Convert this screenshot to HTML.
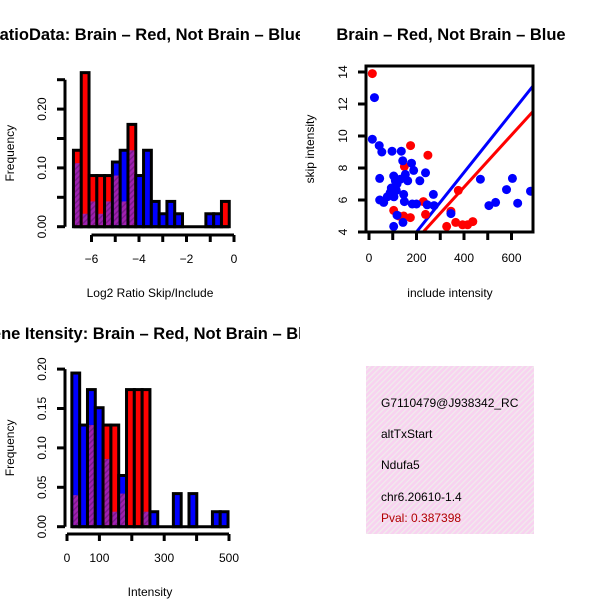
<!DOCTYPE html>
<html><head><meta charset="utf-8"><style>
html,body{margin:0;padding:0;background:#fff}
svg{display:block;font-family:"Liberation Sans",sans-serif}
</style></head><body>
<svg id="chart" width="600" height="600" xmlns="http://www.w3.org/2000/svg">
<defs>
<pattern id="hatch" width="4" height="4" patternUnits="userSpaceOnUse" patternTransform="rotate(45)">
<rect width="4" height="4" fill="#a020b0"/><rect width="1.5" height="4" fill="#7a1a8a"/></pattern>
<pattern id="pink" width="4" height="4" patternUnits="userSpaceOnUse" patternTransform="rotate(45)">
<rect width="4" height="4" fill="#f8d2f0"/><rect width="1.3" height="4" fill="#f0ecec"/></pattern>
<clipPath id="cl1"><rect x="0" y="0" width="300" height="300"/></clipPath>
<clipPath id="cl3"><rect x="0" y="300" width="300" height="300"/></clipPath>
<clipPath id="cl2"><rect x="366" y="66" width="167" height="166"/></clipPath>
</defs>
<g id="p1"></g>
<g id="p2"></g>
<g id="p3"></g>
<g>
<rect x="366" y="366" width="168" height="168" fill="url(#pink)"/>
<svg x="366" y="366" width="168" height="168"><text x="15" y="41" font-size="12">G7110479@J938342_RC</text></svg>
<text x="381" y="438" font-size="12">altTxStart</text>
<text x="381" y="469" font-size="12">Ndufa5</text>
<text x="381" y="501" font-size="12">chr6.20610-1.4</text>
<text x="381" y="522" font-size="12" fill="#b00000">Pval: 0.387398</text>
</g>
</svg>
<script>
// Ratio histogram data (20 bins)
const ratioBinStart = -6.76;
const ratioBinWidth = 0.328;
const ratioRed  = [0.13,0.262,0.087,0.087,0.087,0.087,0.043,0.174,0,0,0,0,0,0,0,0,0,0,0,0.043];
const ratioBlue = [0.108,0.022,0.043,0.022,0.043,0.11,0.13,0.13,0.087,0.13,0.043,0.022,0.043,0.022,0,0,0,0.022,0.022,0];
const ratioXTicks = [-6,-5,-4,-3,-2,-1,0];
const ratioXLabels = ["−6","−4","−2","0"];
const ratioYTicks = [0,0.05,0.1,0.15,0.2,0.25];
const ratioYLabels = ["0.00","0.10","0.20"];
// Scatter data
const redX = [14,175,248,149,104,125,174,238,229,327,345,376,365,394,415,437,146];
const redY = [13.9,9.4,8.8,8.1,5.35,5.0,4.9,5.1,5.9,4.35,5.3,6.6,4.6,4.45,4.45,4.65,5.0];
const blueX = [23,14,43,54,97,136,142,179,188,45,238,214,104,111,118,94,132,153,163,89,115,146,77,105,45,62,149,182,200,245,274,271,118,143,104,345,469,505,533,579,604,626,680];
const blueY = [12.4,9.8,9.4,9.0,9.05,9.05,8.45,8.3,7.85,7.35,7.7,7.2,7.5,7.2,7.0,6.75,7.3,7.6,7.2,6.45,6.6,6.35,6.2,6.2,6.0,5.85,5.9,5.75,5.75,5.7,5.65,6.35,5.05,4.6,4.35,5.15,7.3,5.65,5.85,6.65,7.35,5.8,6.55];
const fitIntercept = [0.28,0.28]; // red, blue
const fitSlope = [0.0163,0.0186];
const scXTicks = [0,100,200,300,400,500,600,700];
const scXLabels = ["0","200","400","600"];
const scYTicks = [4,6,8,10,12,14];
// Intensity histogram data (20 bins)
const intBinStart = 15;
const intBinWidth = 24.1;
const intRed  = [0.04,0,0.129,0,0.129,0.129,0.042,0.174,0.174,0.174,0,0,0,0,0,0,0,0,0,0];
const intBlue = [0.195,0.129,0.174,0.151,0.086,0.019,0.065,0,0,0.019,0.019,0,0,0.042,0,0.042,0,0,0.019,0.019];
const intXTicks = [0,100,200,300,400,500];
const intXLabels = ["0","100","300","500"];
const intXLabelVals = [0,100,300,500];
const intYTicks = [0,0.05,0.1,0.15,0.2];
const intYLabels = ["0.00","0.05","0.10","0.15","0.20"];

const NS="http://www.w3.org/2000/svg";
function mk(parent,tag,attrs,txt){const e=document.createElementNS(NS,tag);for(const k in attrs)e.setAttribute(k,attrs[k]);if(txt!==undefined)e.textContent=txt;parent.appendChild(e);return e;}

function hist(g,clip,binStart,binW,red,blue,xs,ys,xTicks,xLabelVals,xLabels,yTicks,yLabelVals,yLabels,yAxisX,xAxisY,title,titleX,titleY,xlab,xlabY){
  g.setAttribute('clip-path','url(#'+clip+')');
  const n=red.length;
  for(let i=0;i<n;i++){
    const x0=xs(binStart+i*binW), x1=xs(binStart+(i+1)*binW);
    const r=red[i], b=blue[i];
    const hi=Math.max(r,b), lo=Math.min(r,b);
    if(hi>0){
      const big=mk(g,'rect',{x:x0,y:ys(hi),width:x1-x0,height:ys(0)-ys(hi),fill:r>=b?'#ff0000':'#0000ff',stroke:'#000','stroke-width':3});
      
      
    }
    if(lo>0){
      const ov=mk(g,'rect',{x:x0+1.5,y:ys(lo),width:x1-x0-3,height:ys(0)-ys(lo)-1.5,fill:'url(#hatch)'});
      
      
    }
  }
  const bl=mk(g,'line',{x1:xs(binStart),x2:xs(binStart+n*binW),y1:ys(0),y2:ys(0),stroke:'#000','stroke-width':3});
  
  
  const ya=mk(g,'g',{});
  
  
  mk(ya,'line',{x1:yAxisX,x2:yAxisX,y1:ys(yTicks[0]),y2:ys(yTicks[yTicks.length-1]),stroke:'#000','stroke-width':3});
  yTicks.forEach(t=>mk(ya,'line',{x1:yAxisX,x2:yAxisX-8,y1:ys(t),y2:ys(t),stroke:'#000','stroke-width':3}));
  yLabelVals.forEach((t,i)=>{const tx=mk(ya,'text',{x:yAxisX-19,y:ys(t),'font-size':12,'text-anchor':'middle',transform:'rotate(-90 '+(yAxisX-19)+' '+ys(t)+')'},yLabels[i]);
    
    });
  const xa=mk(g,'g',{});
  
  
  mk(xa,'line',{x1:xs(xTicks[0]),x2:xs(xTicks[xTicks.length-1]),y1:xAxisY,y2:xAxisY,stroke:'#000','stroke-width':3});
  xTicks.forEach(t=>mk(xa,'line',{x1:xs(t),x2:xs(t),y1:xAxisY,y2:xAxisY+7,stroke:'#000','stroke-width':3}));
  xLabelVals.forEach((t,i)=>{const tx=mk(xa,'text',{x:xs(t),y:xAxisY+28,'font-size':12,'text-anchor':'middle'},xLabels[i]);
    
    });
  const xl=mk(g,'text',{x:150,y:xlabY,'font-size':12,'text-anchor':'middle'},xlab);
  
  
  const yl=mk(g,'text',{x:14,y:(ys(0)+ys(yTicks[yTicks.length-1]))/2,'font-size':12,'text-anchor':'middle',transform:'rotate(-90 14 '+(ys(0)+ys(yTicks[yTicks.length-1]))/2+')'},'Frequency');
  
  
  const tt=mk(g,'text',{x:titleX,y:titleY,'font-size':16.5,'font-weight':'bold','text-anchor':'end'},title);
  
  
}

const xs1=v=>234+v*23.75, ys1=v=>226.7-v*588;
hist(document.getElementById('p1'),'cl1',ratioBinStart,ratioBinWidth,ratioRed,ratioBlue,xs1,ys1,
  ratioXTicks,[-6,-4,-2,0],ratioXLabels,ratioYTicks,[0,0.1,0.2],ratioYLabels,65,235,
  'RatioData: Brain \u2013 Red, Not Brain \u2013 Blue',304,40,'Log2 Ratio Skip/Include',297);
const xs3=v=>67+v*0.324, ys3=v=>526.7-v*788;
hist(document.getElementById('p3'),'cl3',intBinStart,intBinWidth,intRed,intBlue,xs3,ys3,
  intXTicks,intXLabelVals,intXLabels,intYTicks,intYTicks,intYLabels,65,534,
  'Gene Itensity: Brain \u2013 Red, Not Brain \u2013 Blue',322,339,'Intensity',596);

(function(){
  const g=document.getElementById('p2');
  const xs=v=>369+v*0.2375, ys=v=>232-(v-4)*16;
  const pts=mk(g,'g',{'clip-path':'url(#cl2)'});
  const cols=['#ff0000','#0000ff'];
  [0,1].forEach(k=>{const l=mk(pts,'line',{x1:xs(-50),y1:ys(fitIntercept[k]+fitSlope[k]*-50),x2:xs(750),y2:ys(fitIntercept[k]+fitSlope[k]*750),stroke:cols[k],'stroke-width':3});
    
    });
  redX.forEach((x,i)=>{const c=mk(pts,'circle',{cx:xs(x),cy:ys(redY[i]),r:4.5,fill:'#ff0000'});
    
    });
  blueX.forEach((x,i)=>{const c=mk(pts,'circle',{cx:xs(x),cy:ys(blueY[i]),r:4.5,fill:'#0000ff'});
    
    });
  const box=mk(g,'rect',{x:366,y:66,width:167,height:166,fill:'none',stroke:'#000','stroke-width':3});
  
  
  const xa=mk(g,'g',{});
  
  
  scXTicks.forEach(t=>{if(xs(t)<=534)mk(xa,'line',{x1:xs(t),x2:xs(t),y1:232,y2:240,stroke:'#000','stroke-width':3});});
  [0,200,400,600].forEach((t,i)=>{const tx=mk(xa,'text',{x:xs(t),y:262,'font-size':12,'text-anchor':'middle'},scXLabels[i]);
    
    });
  const ya=mk(g,'g',{});
  
  
  scYTicks.forEach(t=>{mk(ya,'line',{x1:366,x2:358,y1:ys(t),y2:ys(t),stroke:'#000','stroke-width':3});
    const tx=mk(ya,'text',{x:347,y:ys(t),'font-size':12,'text-anchor':'middle',transform:'rotate(-90 347 '+ys(t)+')'},String(t));
    
    });
  const xl=mk(g,'text',{x:450,y:297,'font-size':12,'text-anchor':'middle'},'include intensity');
  
  
  const yl=mk(g,'text',{x:314,y:149,'font-size':12,'text-anchor':'middle',transform:'rotate(-90 314 149)'},'skip intensity');
  
  
  const tt=mk(g,'text',{x:451,y:40,'font-size':16.5,'font-weight':'bold','text-anchor':'middle'},'Brain \u2013 Red, Not Brain \u2013 Blue');
  
  
})();
</script>
</body></html>
